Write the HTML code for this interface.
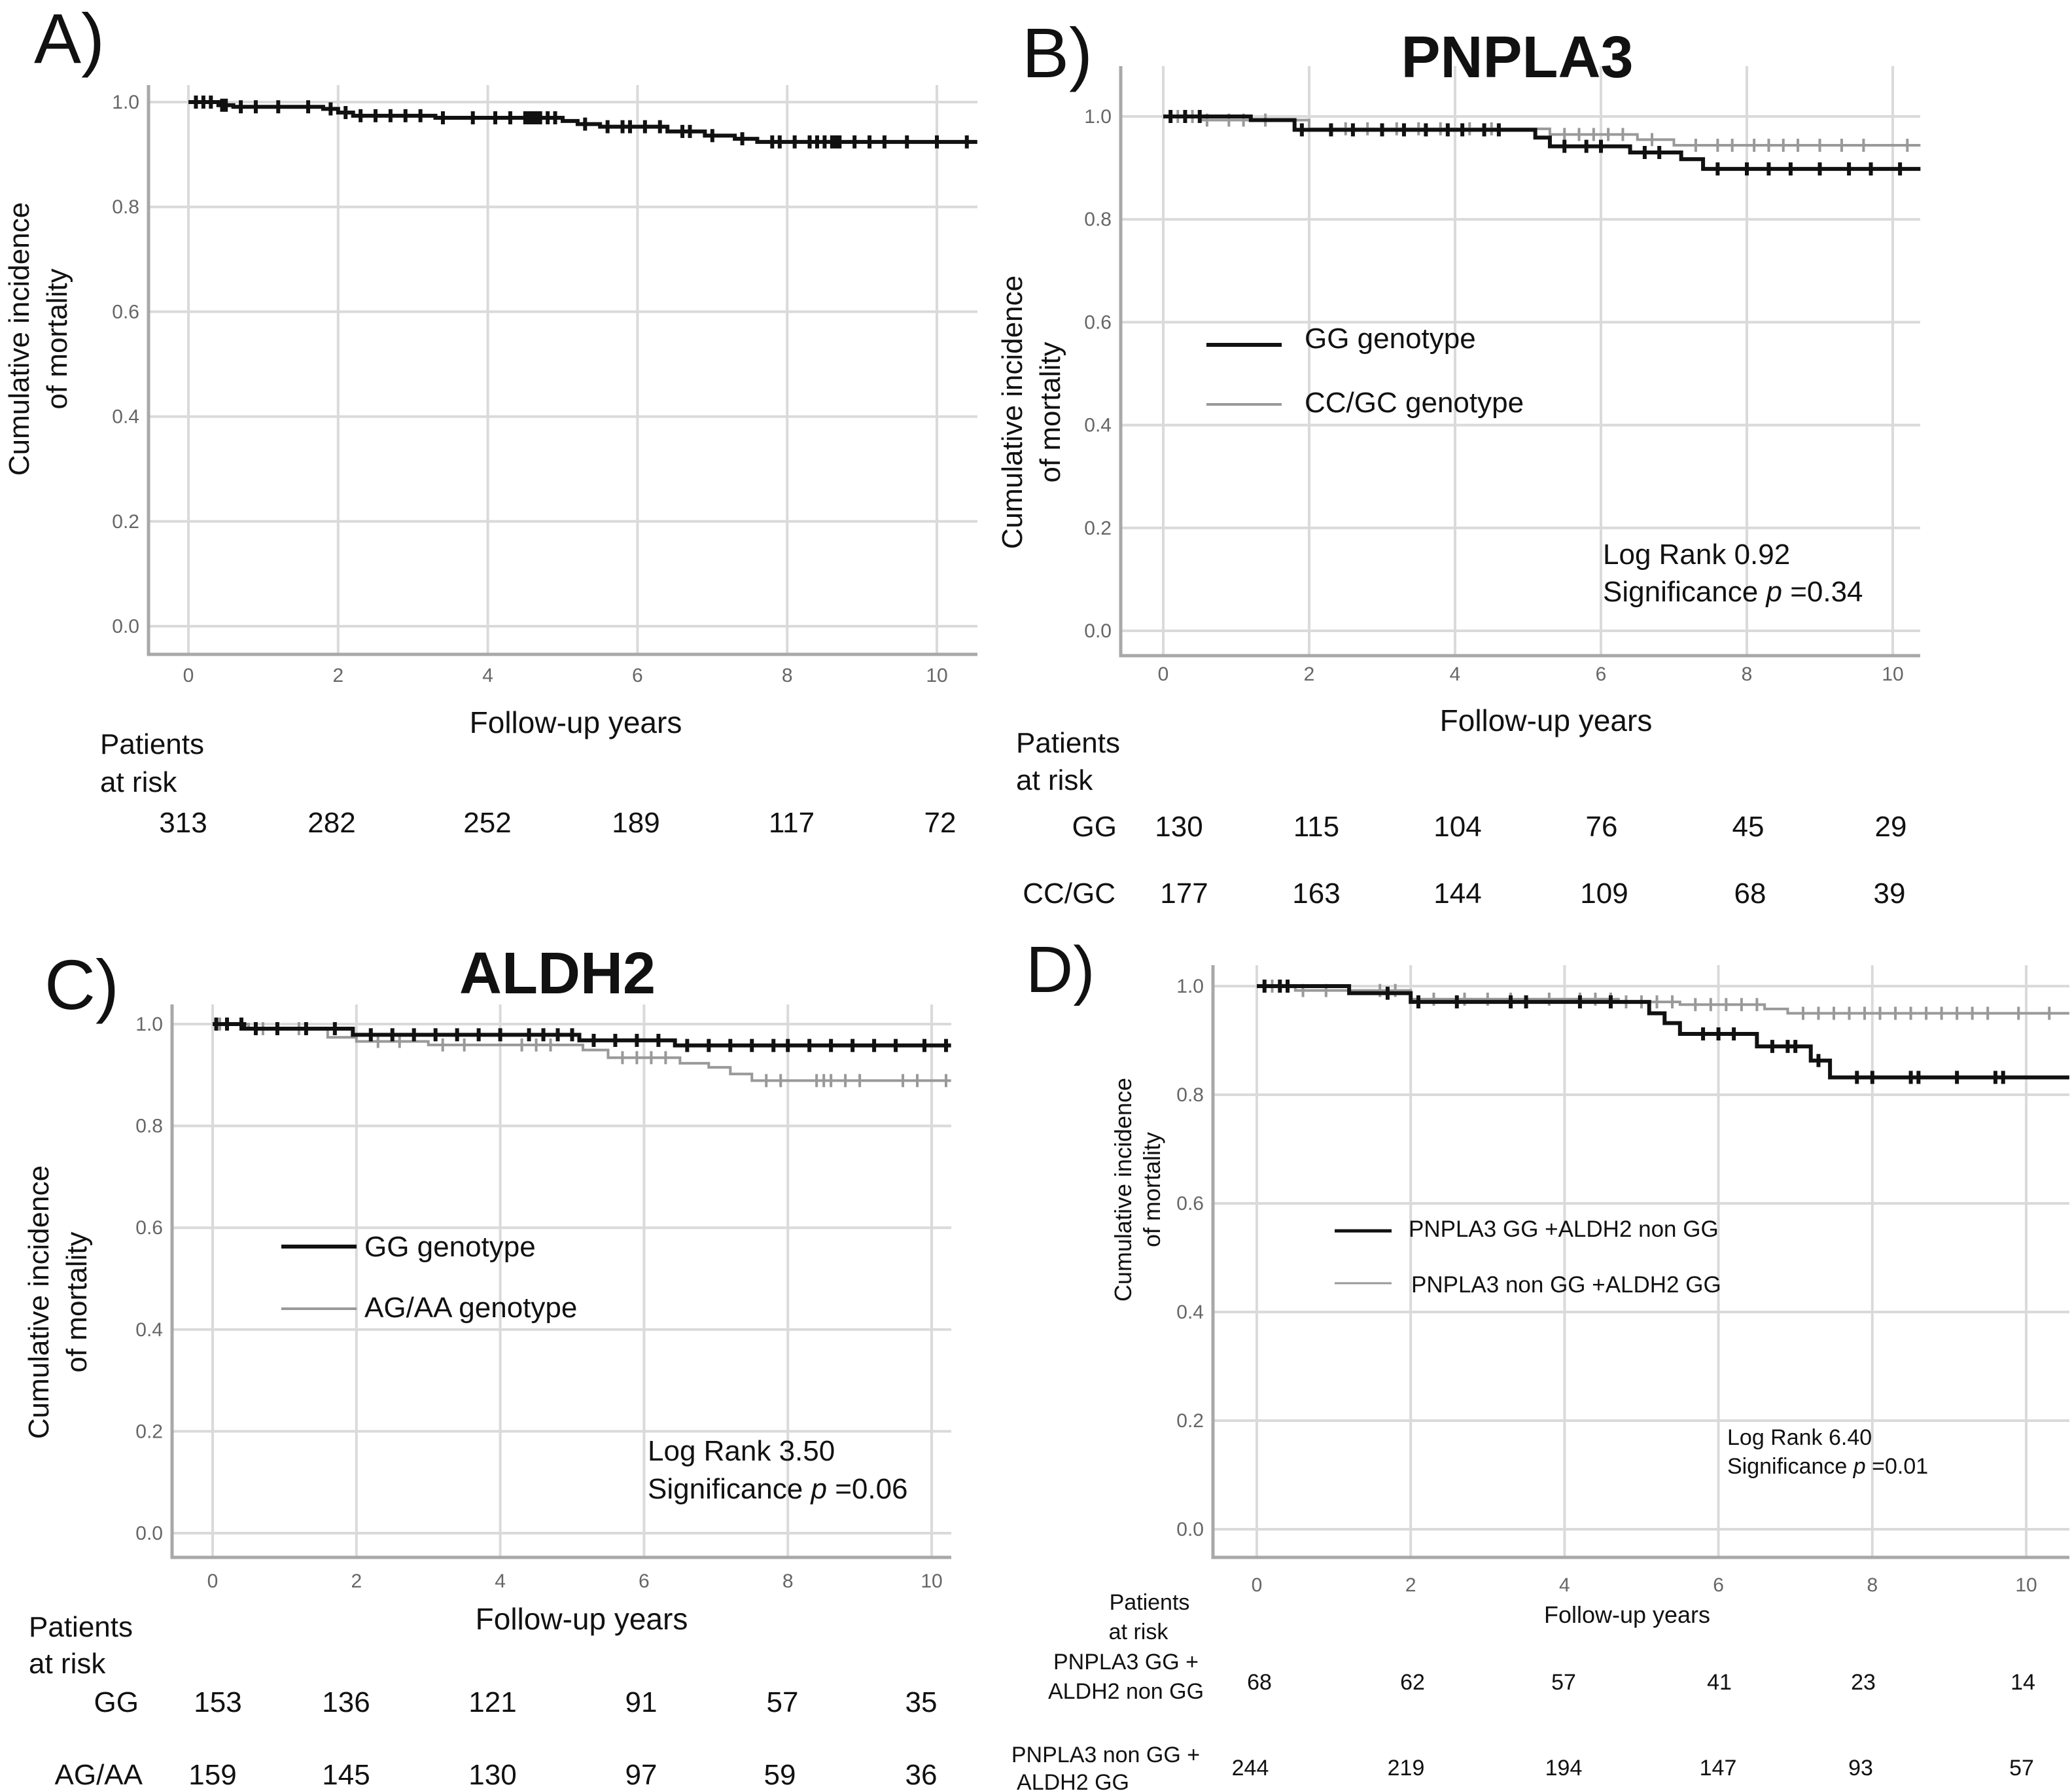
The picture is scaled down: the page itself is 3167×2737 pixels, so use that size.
<!DOCTYPE html>
<html><head><meta charset="utf-8"><style>
html,body{margin:0;padding:0;background:#fff;}
svg{display:block;font-family:"Liberation Sans",sans-serif;}
.tick{font-size:30px;fill:#666;}
.lab{fill:#111;}
</style></head><body>
<svg id="fig" width="3167" height="2737" viewBox="0 0 3167 2737" xmlns="http://www.w3.org/2000/svg">
<rect width="3167" height="2737" fill="#fff"/>
<g id="layer"></g>
<!-- Panel A texts -->
<text x="52" y="96" font-size="108" class="lab">A)</text>
<g transform="translate(50,518) rotate(-90)"><text text-anchor="middle" font-size="44" class="lab" y="-6">Cumulative incidence</text><text text-anchor="middle" font-size="44" class="lab" y="52">of mortality</text></g>
<text x="880" y="1120" text-anchor="middle" font-size="46" class="lab">Follow-up years</text>
<text x="153" y="1152" font-size="44" class="lab">Patients</text>
<text x="153" y="1210" font-size="44" class="lab">at risk</text>
<!-- Panel B texts -->
<text x="1562" y="118" font-size="108" class="lab">B)</text>
<text x="2319" y="118" text-anchor="middle" font-size="90" font-weight="bold" class="lab">PNPLA3</text>
<g transform="translate(1568,630) rotate(-90)"><text text-anchor="middle" font-size="44" class="lab" y="-6">Cumulative incidence</text><text text-anchor="middle" font-size="44" class="lab" y="52">of mortality</text></g>
<line x1="1844" y1="527" x2="1959" y2="527" stroke="#111" stroke-width="6"/>
<text x="1994" y="532" font-size="44" class="lab">GG genotype</text>
<line x1="1844" y1="618" x2="1959" y2="618" stroke="#999" stroke-width="4"/>
<text x="1994" y="630" font-size="44" class="lab">CC/GC genotype</text>
<text x="2450" y="862" font-size="44" class="lab">Log Rank 0.92</text>
<text x="2450" y="919" font-size="44" class="lab">Significance <tspan font-style="italic">p</tspan> =0.34</text>
<text x="2363" y="1117" text-anchor="middle" font-size="46" class="lab">Follow-up years</text>
<text x="1553" y="1150" font-size="44" class="lab">Patients</text>
<text x="1553" y="1207" font-size="44" class="lab">at risk</text>
<text x="1707" y="1278" text-anchor="end" font-size="44" class="lab">GG</text>
<text x="1705" y="1380" text-anchor="end" font-size="44" class="lab">CC/GC</text>
<!-- Panel C texts -->
<text x="68" y="1542" font-size="108" class="lab">C)</text>
<text x="852" y="1518" text-anchor="middle" font-size="90" font-weight="bold" class="lab">ALDH2</text>
<g transform="translate(80,1990) rotate(-90)"><text text-anchor="middle" font-size="44" class="lab" y="-6">Cumulative incidence</text><text text-anchor="middle" font-size="44" class="lab" y="52">of mortality</text></g>
<line x1="430" y1="1905" x2="545" y2="1905" stroke="#111" stroke-width="6"/>
<text x="557" y="1920" font-size="44" class="lab">GG genotype</text>
<line x1="430" y1="2000" x2="545" y2="2000" stroke="#999" stroke-width="4"/>
<text x="557" y="2013" font-size="44" class="lab">AG/AA genotype</text>
<text x="990" y="2232" font-size="44" class="lab">Log Rank 3.50</text>
<text x="990" y="2290" font-size="44" class="lab">Significance <tspan font-style="italic">p</tspan> =0.06</text>
<text x="889" y="2490" text-anchor="middle" font-size="46" class="lab">Follow-up years</text>
<text x="44" y="2501" font-size="44" class="lab">Patients</text>
<text x="44" y="2557" font-size="44" class="lab">at risk</text>
<text x="212" y="2616" text-anchor="end" font-size="44" class="lab">GG</text>
<text x="218" y="2727" text-anchor="end" font-size="44" class="lab">AG/AA</text>
<!-- Panel D texts -->
<text x="1568" y="1516" font-size="100" class="lab">D)</text>
<g transform="translate(1735,1818) rotate(-90)"><text text-anchor="middle" font-size="36" class="lab" y="-6">Cumulative incidence</text><text text-anchor="middle" font-size="36" class="lab" y="38">of mortality</text></g>
<line x1="2040" y1="1881" x2="2127" y2="1881" stroke="#111" stroke-width="5"/>
<text x="2153" y="1890" font-size="35" class="lab">PNPLA3 GG +ALDH2 non GG</text>
<line x1="2040" y1="1961" x2="2127" y2="1961" stroke="#999" stroke-width="3"/>
<text x="2157" y="1975" font-size="35" class="lab">PNPLA3 non GG +ALDH2 GG</text>
<text x="2640" y="2208" font-size="34" class="lab">Log Rank 6.40</text>
<text x="2640" y="2252" font-size="34" class="lab">Significance <tspan font-style="italic">p</tspan> =0.01</text>
<text x="2487" y="2480" text-anchor="middle" font-size="36" class="lab">Follow-up years</text>
<text x="1757" y="2460" text-anchor="middle" font-size="34" class="lab">Patients</text>
<text x="1740" y="2505" text-anchor="middle" font-size="34" class="lab">at risk</text>
<text x="1721" y="2551" text-anchor="middle" font-size="34" class="lab">PNPLA3 GG +</text>
<text x="1721" y="2596" text-anchor="middle" font-size="34" class="lab">ALDH2 non GG</text>
<text x="1690" y="2693" text-anchor="middle" font-size="34" class="lab">PNPLA3 non GG +</text>
<text x="1640" y="2735" text-anchor="middle" font-size="34" class="lab">ALDH2 GG</text>
</svg>
<script>
// ---- data ----
const yTicks = [0.0, 0.2, 0.4, 0.6, 0.8, 1.0];
const xTicks = [0, 2, 4, 6, 8, 10];
// Panel A
const aTimes = [0, 0.4, 0.6, 1.8, 2.0, 2.2, 3.3, 5.0, 5.2, 5.5, 6.4, 6.9, 7.3, 7.6];
const aVals  = [1.0, 0.994, 0.991, 0.987, 0.980, 0.974, 0.970, 0.964, 0.958, 0.953, 0.944, 0.936, 0.930, 0.924];
const aCens = [0.1,0.2,0.3,0.45,0.5,0.7,0.9,1.2,1.6,1.9,2.1,2.3,2.5,2.7,2.9,3.1,3.4,3.8,4.1,4.3,4.5,4.55,4.6,4.65,4.7,4.8,4.9,5.3,5.6,5.8,5.9,6.1,6.3,6.6,6.7,7.0,7.4,7.8,7.9,8.1,8.3,8.4,8.5,8.6,8.65,8.7,8.9,9.1,9.3,9.6,10.0,10.4];
const aRisk = [313, 282, 252, 189, 117, 72];
// Panel B
const bGGTimes = [0, 1.2, 1.8, 5.1, 5.3, 6.4, 7.1, 7.4];
const bGGVals  = [1.0, 0.993, 0.974, 0.959, 0.942, 0.930, 0.917, 0.898];
const bGGCens = [0.1,0.3,0.5,1.9,2.3,2.6,3.0,3.3,3.6,3.9,4.1,4.4,4.6,5.5,5.8,6.0,6.6,6.8,7.6,8.0,8.3,8.6,9.0,9.4,9.7,10.1];
const bCCTimes = [0, 0.5, 2.0, 5.3, 6.5, 7.0];
const bCCVals  = [1.0, 0.993, 0.976, 0.965, 0.955, 0.944];
const bCCCens = [0.1,0.2,0.4,0.6,0.9,1.1,1.4,2.5,2.8,3.2,3.5,3.8,4.2,4.5,5.5,5.7,5.9,6.1,6.3,6.7,7.3,7.6,7.8,8.1,8.3,8.5,8.7,9.0,9.3,9.6,10.2];
const bRiskGG = [130, 115, 104, 76, 45, 29];
const bRiskCC = [177, 163, 144, 109, 68, 39];
// Panel C
const cGGTimes = [0, 0.44, 1.95, 5.1, 6.43];
const cGGVals  = [1.0, 0.991, 0.979, 0.968, 0.958];
const cGGCens = [0.05,0.2,0.4,0.6,0.9,1.3,1.7,2.2,2.5,2.8,3.1,3.4,3.7,4.0,4.4,4.6,4.8,5.0,5.3,5.6,5.9,6.2,6.6,6.9,7.2,7.5,7.8,8.0,8.3,8.6,8.9,9.2,9.5,9.9,10.2];
const cAGTimes = [0, 0.5, 1.6, 2.0, 3.0, 5.15, 5.5, 6.5, 6.9, 7.2, 7.5];
const cAGVals  = [1.0, 0.991, 0.974, 0.966, 0.959, 0.949, 0.934, 0.923, 0.915, 0.902, 0.889];
const cAGCens = [0.1,0.7,1.2,2.3,2.6,3.2,3.5,4.3,4.5,4.7,5.7,5.9,6.1,6.3,7.7,7.9,8.4,8.5,8.6,8.8,9.0,9.6,9.8,10.2];
const cRiskGG = [153, 136, 121, 91, 57, 35];
const cRiskAG = [159, 145, 130, 97, 59, 36];
// Panel D
const dATimes = [0, 1.2, 2.0, 5.1, 5.3, 5.5, 6.5, 7.2, 7.45];
const dAVals  = [1.0, 0.987, 0.971, 0.950, 0.932, 0.912, 0.889, 0.863, 0.832];
const dACens = [0.1,0.3,0.4,1.7,2.1,2.6,3.3,3.5,4.2,4.6,5.8,6.0,6.2,6.7,6.9,7.0,7.3,7.8,8.0,8.5,8.6,9.1,9.6,9.7];
const dBTimes = [0, 0.5, 2.0, 4.7, 5.5, 6.6, 6.9];
const dBVals  = [1.0, 0.992, 0.976, 0.971, 0.966, 0.958, 0.950];
const dBCens = [0.1,0.2,0.6,0.9,1.6,1.8,2.3,2.7,3.0,3.3,3.8,4.2,4.4,4.6,4.8,5.0,5.2,5.4,5.7,5.9,6.1,6.3,6.5,7.1,7.3,7.5,7.7,7.9,8.1,8.3,8.5,8.7,8.9,9.1,9.3,9.5,9.9,10.3];
const dRiskA = [68, 62, 57, 41, 23, 14];
const dRiskB = [244, 219, 194, 147, 93, 57];

// ---- drawing ----
const NS = 'http://www.w3.org/2000/svg';
const layer = document.getElementById('layer');
function mk(tag, attrs, parent) {
  const e = document.createElementNS(NS, tag);
  for (const k in attrs) e.setAttribute(k, attrs[k]);
  (parent || layer).appendChild(e);
  return e;
}
function panel(p) {
  const g = mk('g', {});
  
  
  const xs = t => p.x0 + t * p.ppy;
  const ys = v => p.y0 + (p.y1 - p.y0) * v;
  yTicks.forEach(v => {
    const l = mk('line', {x1: p.left, x2: p.right, y1: ys(v), y2: ys(v), stroke: '#dadada', 'stroke-width': 4}, g);
    
    
    const t = mk('text', {x: p.left - 14, y: ys(v) + 10, 'text-anchor': 'end', class: 'tick', 'font-size': p.tf}, g);
    
    
    t.textContent = v.toFixed(1);
  });
  xTicks.forEach(v => {
    const l = mk('line', {x1: xs(v), x2: xs(v), y1: p.top, y2: p.bottom, stroke: '#dadada', 'stroke-width': 4}, g);
    
    
    const t = mk('text', {x: xs(v), y: p.tickY, 'text-anchor': 'middle', class: 'tick', 'font-size': p.tf}, g);
    
    
    t.textContent = v;
  });
  const ax = mk('path', {d: `M${p.left} ${p.top} V${p.bottom} H${p.right}`, fill: 'none', stroke: '#a8a8a8', 'stroke-width': 5}, g);
  
  
  p.series.forEach(s => {
    let d = `M${xs(s.t[0])} ${ys(s.v[0])}`;
    for (let i = 1; i < s.t.length; i++) d += ` H${xs(s.t[i])} V${ys(s.v[i])}`;
    d += ` H${xs(p.tEnd)}`;
    const path = mk('path', {d: d, fill: 'none', stroke: s.color, 'stroke-width': s.w}, g);
    
    
    s.c.forEach(ct => {
      let v = s.v[0];
      for (let i = 0; i < s.t.length; i++) if (s.t[i] <= ct) v = s.v[i];
      const m = mk('line', {x1: xs(ct), x2: xs(ct), y1: ys(v) - 10, y2: ys(v) + 10, stroke: s.color, 'stroke-width': s.w}, g);
      
      
    });
  });
  p.risk.forEach(r => {
    r.vals.forEach((n, i) => {
      const t = mk('text', {x: r.xs[i], y: r.y, 'text-anchor': 'middle', 'font-size': r.fs, fill: '#111'}, g);
      
      
      t.textContent = n;
    });
  });
}
panel({name: 'panel-a-plot', x0: 288, ppy: 114.4, y1: 156, y0: 957, left: 227, bottom: 1000, right: 1494, top: 130, tickY: 1042, tf: 30, tEnd: 10.54,
  series: [{name: 'series-all', t: aTimes, v: aVals, c: aCens, color: '#111', w: 6}],
  risk: [{vals: aRisk, xs: [280, 507, 745, 972, 1210, 1437], y: 1272, fs: 44}]});
panel({name: 'panel-b-plot', x0: 1778, ppy: 111.5, y1: 178, y0: 964, left: 1713, bottom: 1002, right: 2935, top: 101, tickY: 1040, tf: 28, tEnd: 10.38,
  series: [{name: 'series-ccgc', t: bCCTimes, v: bCCVals, c: bCCCens, color: '#999', w: 4},
           {name: 'series-gg', t: bGGTimes, v: bGGVals, c: bGGCens, color: '#111', w: 6}],
  risk: [{vals: bRiskGG, xs: [1802, 2012, 2228, 2448, 2672, 2890], y: 1278, fs: 44},
         {vals: bRiskCC, xs: [1810, 2012, 2228, 2452, 2675, 2888], y: 1380, fs: 44}]});
panel({name: 'panel-c-plot', x0: 325, ppy: 109.9, y1: 1565, y0: 2343, left: 263, bottom: 2380, right: 1454, top: 1535, tickY: 2426, tf: 28, tEnd: 10.27,
  series: [{name: 'series-agaa', t: cAGTimes, v: cAGVals, c: cAGCens, color: '#999', w: 4},
           {name: 'series-gg', t: cGGTimes, v: cGGVals, c: cGGCens, color: '#111', w: 6}],
  risk: [{vals: cRiskGG, xs: [333, 529, 753, 980, 1196, 1408], y: 2616, fs: 44},
         {vals: cRiskAG, xs: [325, 529, 753, 980, 1192, 1408], y: 2727, fs: 44}]});
panel({name: 'panel-d-plot', x0: 1921, ppy: 117.6, y1: 1507, y0: 2337, left: 1854, bottom: 2380, right: 3163, top: 1475, tickY: 2432, tf: 28, tEnd: 10.56,
  series: [{name: 'series-nongg-aldh2gg', t: dBTimes, v: dBVals, c: dBCens, color: '#999', w: 4},
           {name: 'series-gg-aldh2nongg', t: dATimes, v: dAVals, c: dACens, color: '#111', w: 6}],
  risk: [{vals: dRiskA, xs: [1925, 2159, 2390, 2628, 2848, 3092], y: 2582, fs: 34},
         {vals: dRiskB, xs: [1911, 2149, 2390, 2626, 2844, 3090], y: 2713, fs: 34}]});
</script>
</body></html>
